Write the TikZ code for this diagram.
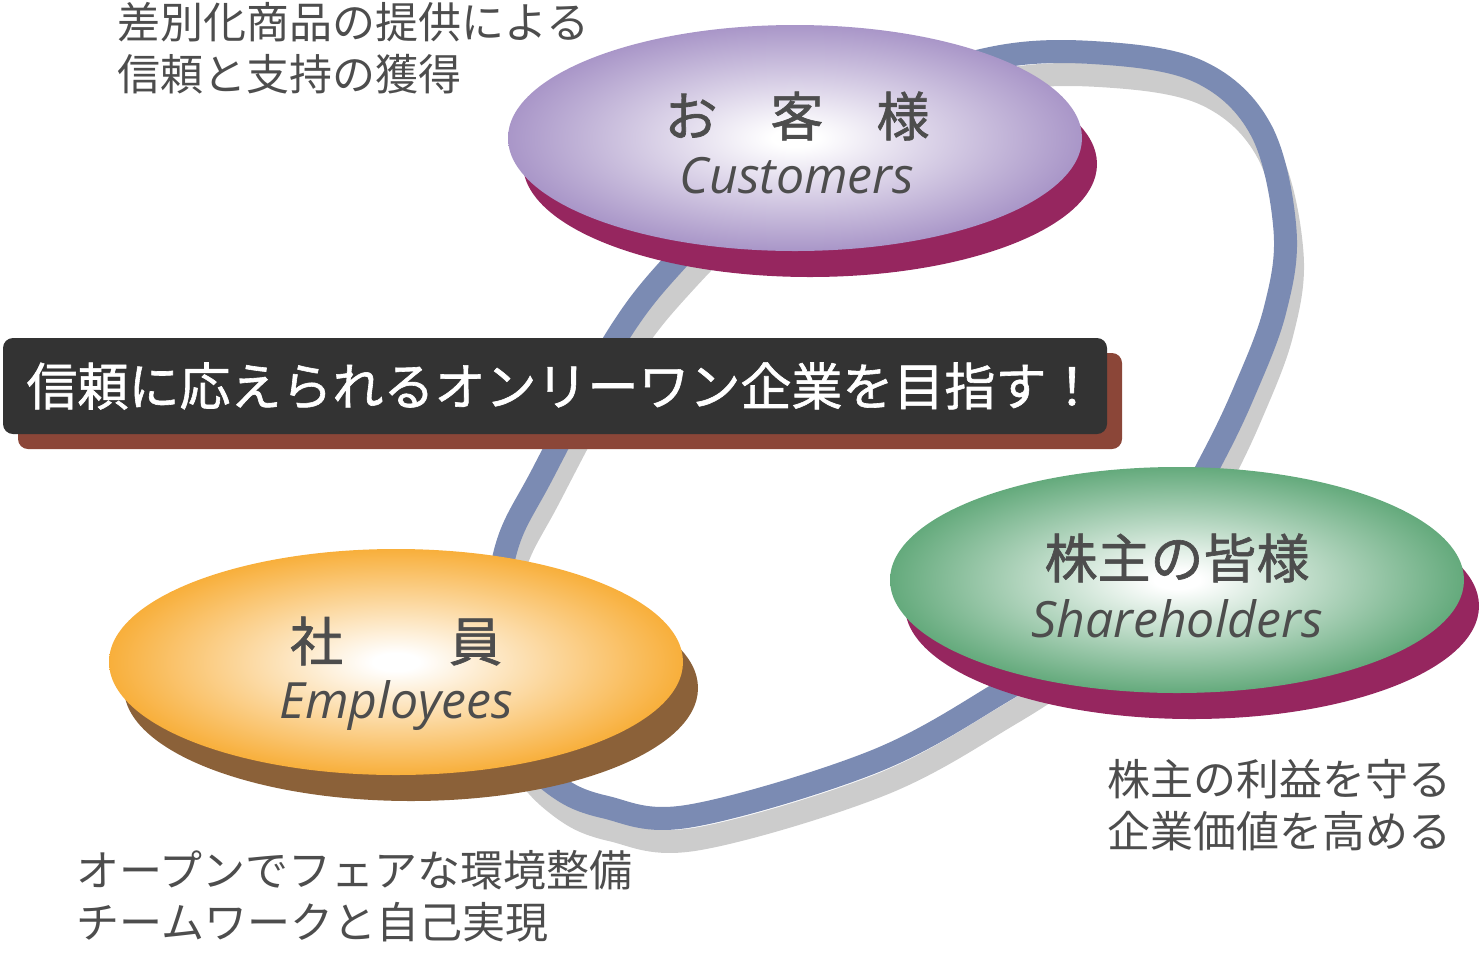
\documentclass[tikz,border=0pt]{standalone}
\usepackage{fontspec}
\setmainfont{Open Sans}
\newfontfamily\jpfont{Noto Sans CJK JP}
\newfontfamily\jpmedfont[FakeBold=1.2]{Noto Sans CJK JP}
\usepackage{tikz}
\usetikzlibrary{shapes.geometric, shadows}
\usepackage{xcolor}

\definecolor{loopblue}{HTML}{7B8BB3}
\definecolor{loopgrey}{HTML}{CCCCCC}
\definecolor{lavender}{HTML}{A996C8}
\definecolor{berry}{HTML}{96265F}
\definecolor{sage}{HTML}{64AA7C}
\definecolor{amber}{HTML}{F8AF3B}
\definecolor{bark}{HTML}{8B6139}
\definecolor{slate}{HTML}{333333}
\definecolor{brick}{HTML}{8B4638}
\definecolor{ink}{HTML}{4D4D4D}

\colorlet{disccol}{lavender}
\pgfdeclareradialshading[disccol]{disc}{\pgfpoint{0bp}{0bp}}{color(0bp)=(white); color(2bp)=(white); color(25bp)=(disccol); color(50bp)=(disccol)}

\tikzset{
  oval/.style={ellipse, minimum width=287pt, minimum height=113pt, inner sep=0pt,
    shade, shading=disc, general shadow={fill=#1, shadow xshift=7.5pt, shadow yshift=-13pt}},
  banner/.style={fill=slate, text=white, rounded corners=5pt, inner sep=0pt,
    minimum width=552pt, minimum height=48pt, font=\jpmedfont\fontsize{25.5}{30}\selectfont,
    general shadow={fill=brick, shadow xshift=7.5pt, shadow yshift=-7.5pt}},
  title jp/.style={inner sep=0pt, text=ink, font=\jpmedfont\fontsize{26.5}{30}\selectfont},
  title en/.style={inner sep=0pt, anchor=base, text=ink, font=\itshape\fontsize{25}{30}\selectfont},
  caption/.style={inner sep=0pt, anchor=west, align=left, text=ink, font=\jpfont\fontsize{21.5}{26}\selectfont}
}

\begin{document}
\begin{tikzpicture}[x=0.5pt, y=-0.5pt]
      \useasboundingbox (0,0) rectangle (1480,960);

      % The loop behind the ovals, shadow first
      \foreach \c/\dx/\dy in {loopgrey/7/23, loopblue/0/0}
        \draw [\c, line width=11.5pt, shift={(\dx,\dy)}] plot [smooth cycle, tension=0.6] coordinates {
          (993,58) (1100,53) (1200,72) (1261,130) (1285,230) (1275,310) (1245,390) (1210,463)
          (1150,570) (1070,645) (1000,693) (873,762) (690,816) (605,807) (555,785)
          (515,740) (495,660) (505,553) (543,473) (617,337) (677,260) (760,180) (870,100)};

      % The three ovals
      \foreach \n/\xc/\yc/\fc/\sc in {cust/795/138/lavender/berry, share/1177/580/sage/berry, staff/396/662/amber/bark}{
        \colorlet{disccol}{\fc}
        \node [oval=\sc] (oval-\n) at (\xc,\yc) {};
      }

      % Titles on the ovals
      \foreach \n/\jp/\en/\xc/\yj/\ye in {cust/お　客　様/Customers/797/116/193,
          share/株主の皆様/Shareholders/1177/558/637, staff/社　　員/Employees/396/641/718}{
        \node [title jp] (\n-jp) at (\xc,\yj) {\jp};
        \node [title en] (\n-en) at (\xc,\ye) {\en};
      }

      % The motto
      \node [banner] (goal) at (555,386) {\hspace*{7pt}信頼に応えられるオンリーワン企業を目指す！};

      % Captions
      \node [caption] (cap-cust) at (117,48) {差別化商品の提供による\\信頼と支持の獲得};
      \node [caption] (cap-staff) at (76,896) {オープンでフェアな環境整備\\チームワークと自己実現};
      \node [caption] (cap-share) at (1107,805) {株主の利益を守る\\企業価値を高める};
\end{tikzpicture}
\end{document}
